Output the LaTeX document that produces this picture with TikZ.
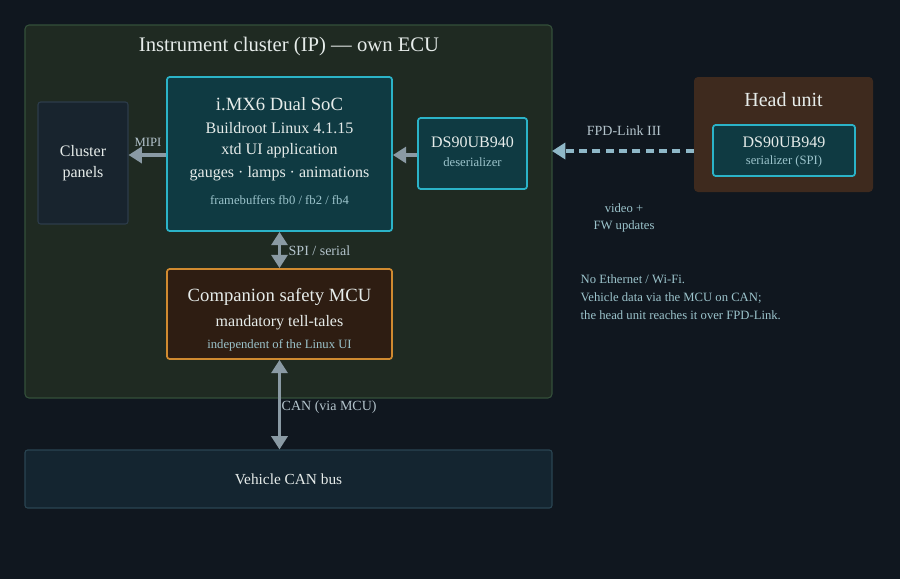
\documentclass[tikz,border=0pt]{standalone}
\usepackage{fontspec}
\setmainfont{Liberation Serif}
\usetikzlibrary{arrows.meta,positioning}
\definecolor{bgc}{HTML}{10171F}
\definecolor{ecufill}{HTML}{1F2A22}
\definecolor{eculine}{HTML}{34503A}
\definecolor{socfill}{HTML}{0F3A42}
\definecolor{socline}{HTML}{2BB3C8}
\definecolor{mcufill}{HTML}{2E1D12}
\definecolor{mculine}{HTML}{D08A30}
\definecolor{panfill}{HTML}{18242E}
\definecolor{panline}{HTML}{2C3C4A}
\definecolor{canfill}{HTML}{142530}
\definecolor{canline}{HTML}{2A4552}
\definecolor{hufill}{HTML}{3E2A1E}
\definecolor{txt}{HTML}{E6ECEA}
\definecolor{subtxt}{HTML}{9CC4CC}
\definecolor{lbl}{HTML}{B4C4CC}
\definecolor{arr}{HTML}{8A9AA4}
\definecolor{fpd}{HTML}{8FB8C8}
\tikzset{
  box/.style={rectangle, draw, rounded corners=2pt, line width=1.3pt, text=txt, align=center},
  link/.style={draw=arr, line width=2.5pt, -{Triangle[length=10pt,width=12pt]}},
  biglabel/.style={text=txt, font=\fontsize{14}{16}\selectfont},
  midlabel/.style={text=txt, font=\fontsize{12}{14}\selectfont},
  sublabel/.style={text=subtxt, font=\fontsize{9.5}{11}\selectfont},
  smalllabel/.style={text=lbl, font=\fontsize{10.5}{12}\selectfont},
}
\begin{document}
\begin{tikzpicture}[x=0.75pt,y=-0.75pt]
    \useasboundingbox[fill=bgc] (0,0) rectangle (900,579);

    % outer ECU
    \draw[fill=ecufill, draw=eculine, rounded corners=3pt, line width=0.8pt] (25,25) rectangle (552,398);
    \node[text=txt, font=\fontsize{15.5}{18}\selectfont] (ecutitle) at (289,47) {Instrument cluster (IP) — own ECU};

    \node[box, fill=panfill, draw=panline, line width=0.8pt,
          minimum width=67.5pt, minimum height=91.5pt,
          font=\fontsize{12}{16}\selectfont] (panels) at (83,163) {Cluster\\panels};

    \node[box, fill=socfill, draw=socline,
          minimum width=168.75pt, minimum height=115.5pt] (soc) at (279.5,154) {};
    \node[biglabel] at (279.5,104) {i.MX6 Dual SoC};
    \node[midlabel] at (279.5,128) {Buildroot Linux 4.1.15};
    \node[midlabel] at (279.5,151) {xtd UI application};
    \node[midlabel] at (279.5,174) {gauges · lamps · animations};
    \node[sublabel] at (279.5,200) {framebuffers fb0 / fb2 / fb4};

    \node[box, fill=socfill, draw=socline,
          minimum width=81.75pt, minimum height=53.25pt] (deser) at (472.5,153.5) {};
    \node[midlabel] at (472.5,142) {DS90UB940};
    \node[sublabel] at (472.5,162) {deserializer};

    \node[box, fill=mcufill, draw=mculine,
          minimum width=168.75pt, minimum height=67.5pt] (mcu) at (279.5,314) {};
    \node[biglabel] at (279.5,297) {Companion safety MCU};
    \node[midlabel] at (279.5,323) {mandatory tell-tales};
    \node[sublabel] at (279.5,345) {independent of the Linux UI};

    \node[box, fill=canfill, draw=canline, line width=0.8pt,
          minimum width=395.25pt, minimum height=43.5pt,
          font=\fontsize{11.5}{13}\selectfont] (canbus) at (288.5,479) {Vehicle CAN bus};

    % head unit
    \node[rectangle, rounded corners=3pt, fill=hufill,
          minimum width=134.25pt, minimum height=86.25pt] (hu) at (783.5,134.5) {};
    \node[text=txt, font=\fontsize{15}{17}\selectfont] at (783.5,100) {Head unit};
    \node[box, fill=socfill, draw=socline,
          minimum width=106.5pt, minimum height=38.25pt] (ser) at (784,150.5) {};
    \node[midlabel] at (784,142) {DS90UB949};
    \node[sublabel] at (784,161) {serializer (SPI)};

    % connectors
    \draw[link] (soc.west |- 0,155) -- (panels.east |- 0,155);
    \draw[link] (deser.west |- 0,155) -- (soc.east |- 0,155);
    \draw[link, draw=fpd, dash pattern=on 6pt off 4pt] (hu.west |- 0,151) -- (552,151);
    \draw[link, {Triangle[length=10pt,width=12pt]}-{Triangle[length=10pt,width=12pt]}] (soc.south) -- (mcu.north);
    \draw[link, {Triangle[length=10pt,width=12pt]}-{Triangle[length=10pt,width=12pt]}] (mcu.south) -- (canbus.north -| mcu.south);

    \node[smalllabel, font=\fontsize{9.5}{11}\selectfont] at (148,142) {MIPI};
    \node[smalllabel, anchor=west] at (284,251) {SPI / serial};
    \node[smalllabel, anchor=west] at (277,407) {CAN (via MCU)};
    \node[smalllabel] at (624,131) {FPD-Link III};
    \node[text=subtxt, font=\fontsize{9.5}{13}\selectfont, align=center] at (624,218) {video +\\FW updates};
    \node[text=subtxt, font=\fontsize{9.5}{13.5}\selectfont, align=left, anchor=north west] at (576,270)
      {No Ethernet / Wi-Fi.\\Vehicle data via the MCU on CAN;\\the head unit reaches it over FPD-Link.};
\end{tikzpicture}
\end{document}
